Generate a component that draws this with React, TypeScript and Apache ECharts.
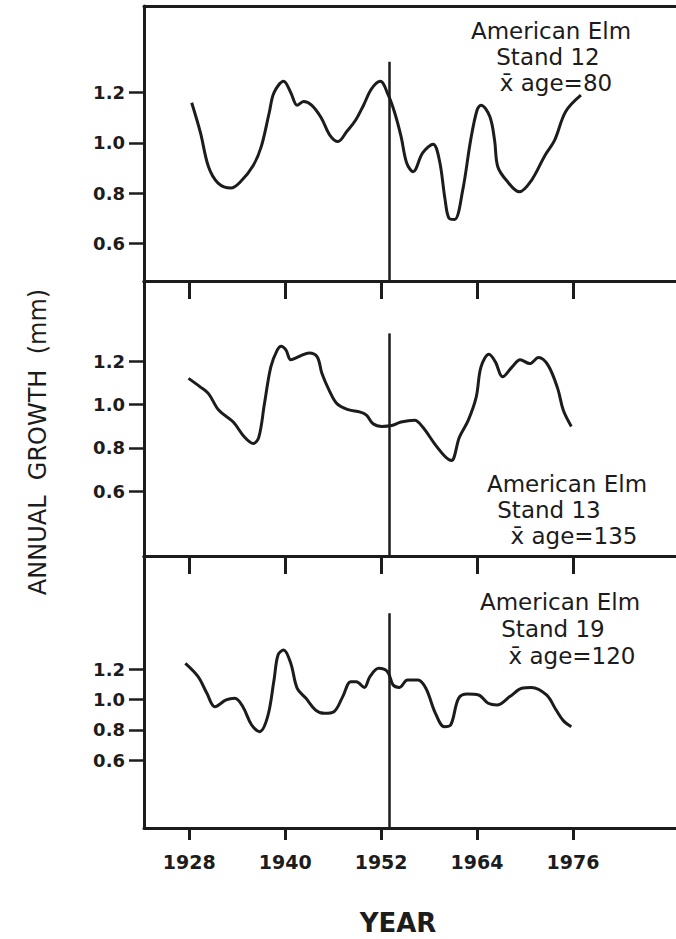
import { useEffect, useRef } from "react";
import * as echarts from "echarts";

// ---- data ----
const tickYears = [1928, 1940, 1952, 1964, 1976];
const growthTicks = [0.6, 0.8, 1.0, 1.2];
const stands = ["12", "13", "19"];
const meanAges = ["80", "135", "120"];
const markerYear = 1953;

const years12 = [1928.3, 1929.4, 1930.4, 1931.6, 1933.2, 1934.4, 1936.0, 1937.0, 1938.0, 1938.6, 1939.8, 1940.7, 1941.5, 1942.3, 1943.3, 1944.5, 1945.6, 1946.6, 1947.7, 1948.8, 1949.8, 1950.8, 1951.9, 1952.9, 1953.7, 1954.5, 1955.2, 1956.0, 1957.2, 1958.5, 1959.3, 1960.0, 1960.5, 1961.2, 1962.2, 1963.2, 1964.0, 1964.5, 1965.6, 1966.2, 1966.6, 1967.7, 1969.3, 1970.8, 1972.5, 1973.7, 1975.1, 1977.0];
const growth12 = [1.16, 1.04, 0.905, 0.84, 0.82, 0.845, 0.91, 0.985, 1.12, 1.2, 1.245, 1.2, 1.15, 1.165, 1.15, 1.1, 1.03, 1.005, 1.045, 1.09, 1.15, 1.215, 1.245, 1.19, 1.12, 1.025, 0.92, 0.885, 0.96, 0.995, 0.93, 0.775, 0.70, 0.695, 0.81, 1.01, 1.13, 1.15, 1.105, 1.01, 0.905, 0.85, 0.805, 0.85, 0.95, 1.01, 1.125, 1.19];

const years13 = [1927.9, 1929.4, 1930.4, 1931.7, 1933.5, 1934.9, 1936.0, 1936.7, 1937.4, 1938.2, 1939.0, 1939.5, 1940.1, 1940.7, 1941.8, 1943.0, 1944.0, 1944.6, 1945.5, 1946.5, 1947.9, 1949.4, 1950.2, 1951.0, 1952.1, 1953.3, 1954.5, 1956.2, 1957.2, 1958.7, 1960.1, 1960.8, 1961.8, 1962.9, 1963.9, 1964.5, 1965.5, 1966.3, 1967.2, 1968.4, 1969.4, 1970.6, 1971.7, 1972.9, 1974.1, 1974.8, 1975.8];
const growth13 = [1.12, 1.08, 1.05, 0.973, 0.919, 0.85, 0.82, 0.85, 1.003, 1.173, 1.25, 1.268, 1.25, 1.206, 1.222, 1.237, 1.219, 1.142, 1.065, 1.003, 0.976, 0.965, 0.95, 0.911, 0.899, 0.903, 0.919, 0.927, 0.896, 0.819, 0.757, 0.742, 0.85, 0.927, 1.034, 1.173, 1.231, 1.196, 1.127, 1.173, 1.206, 1.188, 1.216, 1.18, 1.073, 0.973, 0.899];

const years19 = [1927.5, 1929.1, 1930.2, 1931.2, 1932.6, 1933.7, 1934.7, 1935.8, 1936.8, 1937.8, 1938.6, 1939.1, 1939.8, 1940.7, 1941.5, 1942.6, 1943.8, 1944.9, 1946.1, 1947.2, 1948.2, 1948.9, 1949.9, 1950.6, 1951.7, 1952.8, 1953.5, 1954.3, 1955.3, 1956.6, 1957.6, 1958.8, 1959.9, 1960.7, 1961.7, 1962.8, 1964.2, 1965.4, 1966.5, 1968.1, 1969.6, 1970.8, 1972.7, 1973.9, 1974.8, 1975.8];
const growth19 = [1.24, 1.152, 1.042, 0.953, 0.998, 1.009, 0.953, 0.832, 0.788, 0.887, 1.13, 1.296, 1.329, 1.24, 1.075, 1.009, 0.931, 0.909, 0.92, 1.02, 1.119, 1.119, 1.081, 1.152, 1.207, 1.185, 1.097, 1.081, 1.13, 1.13, 1.075, 0.909, 0.821, 0.832, 1.009, 1.037, 1.031, 0.976, 0.965, 1.02, 1.075, 1.081, 1.031, 0.931, 0.861, 0.821];

// ---- layout ----
const INK = "#1c1c1c";
const FONT = "DejaVu Sans";
const X_MIN = 1922.33;
const X_MAX = 1988.9;

const panels = [
  { top: 6, height: 275, yMin: 0.45, yMax: 1.545, lineTop: 1.323, years: years12, growth: growth12,
    labelPos: [[551, 31], [548, 57], [556, 83]] },
  { top: 281, height: 275, yMin: 0.303, yMax: 1.568, lineTop: 1.327, years: years13, growth: growth13,
    labelPos: [[567, 484], [549, 510], [574, 536]] },
  { top: 556, height: 272, yMin: 0.15, yMax: 1.951, lineTop: 1.572, years: years19, growth: growth19,
    labelPos: [[560, 602], [553, 629], [572, 656]] },
];

export default function App() {
  const ref = useRef<HTMLDivElement>(null);
  useEffect(() => {
    if (!ref.current) return;
    const chart = echarts.init(ref.current, undefined, { renderer: "svg" });

    const grid = panels.map((p) => ({ left: 144, top: p.top, width: 572, height: p.height }));

    const xAxis: any[] = [];
    panels.forEach((p, i) => {
      const base = {
        type: "value",
        gridIndex: i,
        min: X_MIN,
        max: X_MAX,
        splitLine: { show: false },
        axisLine: { show: true, onZero: false, lineStyle: { color: INK, width: 3 } },
      };
      const isLast = i === panels.length - 1;
      xAxis.push({
        ...base,
        position: "bottom",
        axisTick: isLast
          ? { show: true, customValues: tickYears, length: 12, lineStyle: { color: INK, width: 3 } }
          : { show: false },
        axisLabel: isLast
          ? {
              show: true,
              customValues: tickYears,
              margin: 24,
              color: INK,
              fontFamily: FONT,
              fontWeight: "bold",
              fontSize: 19,
              formatter: (v: number) => String(Math.round(v)),
            }
          : { show: false },
      });
      xAxis.push({
        ...base,
        position: "top",
        axisTick:
          i > 0
            ? { show: true, inside: true, customValues: tickYears, length: 18, lineStyle: { color: INK, width: 3 } }
            : { show: false },
        axisLabel: { show: false },
      });
    });

    const yAxis = panels.map((p, i) => ({
      type: "value",
      gridIndex: i,
      min: p.yMin,
      max: p.yMax,
      splitLine: { show: false },
      axisLine: { show: true, lineStyle: { color: INK, width: 3 } },
      axisTick: { show: true, customValues: growthTicks, length: 15, lineStyle: { color: INK, width: 2.5 } },
      axisLabel: {
        show: true,
        customValues: growthTicks,
        margin: 19,
        color: INK,
        fontFamily: FONT,
        fontWeight: "bold",
        fontSize: 18,
        formatter: (v: number) => v.toFixed(1),
      },
    }));

    const series = panels.map((p, i) => ({
      type: "line",
      xAxisIndex: i * 2,
      yAxisIndex: i,
      data: p.years.map((y, k) => [y, p.growth[k]]),
      smooth: 0.35,
      showSymbol: false,
      symbol: "none",
      lineStyle: { color: INK, width: 3 },
      markLine: {
        silent: true,
        symbol: ["none", "none"],
        label: { show: false },
        lineStyle: { color: INK, width: 2.5, type: "solid" },
        data: [[{ coord: [markerYear, p.yMin] }, { coord: [markerYear, p.lineTop] }]],
      },
    }));

    const graphic: any[] = [];
    panels.forEach((p, i) => {
      const lines = ["American Elm", `Stand ${stands[i]}`, `x\u0304 age=${meanAges[i]}`];
      lines.forEach((t, k) => {
        graphic.push({
          type: "text",
          x: p.labelPos[k][0],
          y: p.labelPos[k][1],
          style: {
            text: t,
            fill: INK,
            fontFamily: FONT,
            fontSize: 23,
            align: "center",
            verticalAlign: "middle",
            textAlign: "center",
            textVerticalAlign: "middle",
          },
        });
      });
    });
    graphic.push({
      type: "text",
      x: 38,
      y: 442,
      rotation: Math.PI / 2,
      style: {
        text: "ANNUAL  GROWTH  (mm)",
        fill: INK,
        fontFamily: FONT,
        fontSize: 24,
        align: "center",
        verticalAlign: "middle",
        textAlign: "center",
        textVerticalAlign: "middle",
      },
    });
    graphic.push({
      type: "text",
      x: 398,
      y: 923,
      style: {
        text: "YEAR",
        fill: INK,
        fontFamily: FONT,
        fontWeight: "bold",
        fontSize: 26,
        align: "center",
        verticalAlign: "middle",
        textAlign: "center",
        textVerticalAlign: "middle",
      },
    });

    chart.setOption({
      animation: false,
      backgroundColor: "#ffffff",
      grid,
      xAxis,
      yAxis,
      series,
      graphic,
    });
    return () => chart.dispose();
  }, []);

  return (
    <div
      ref={ref}
      style={{ position: "absolute", left: 0, top: 0, width: 676, height: 939, background: "#fff" }}
    />
  );
}
